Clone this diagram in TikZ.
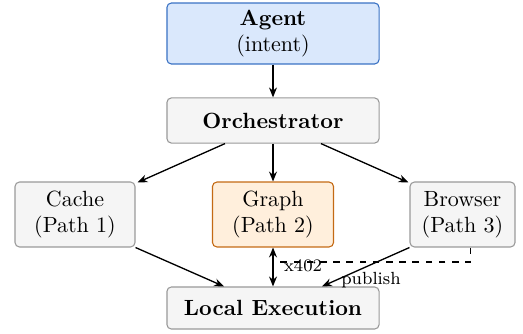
\documentclass[tikz,border=0pt]{standalone}
\usetikzlibrary{arrows.meta,calc}
\definecolor{agentfill}{HTML}{DAE8FC}
\definecolor{agentdraw}{HTML}{3A72C4}
\definecolor{graphfill}{HTML}{FFEFDC}
\definecolor{graphdraw}{HTML}{C46A14}
\definecolor{boxfill}{HTML}{F5F5F5}
\definecolor{boxdraw}{HTML}{9A9A9A}
\begin{document}
\begin{tikzpicture}[x=0.4545pt,y=-0.4545pt,
  box/.style={draw=boxdraw,fill=boxfill,rounded corners=2pt,line width=0.5pt,align=center,inner sep=0pt,font=\normalsize},
  agentbox/.style={box,draw=agentdraw,fill=agentfill},
  graphbox/.style={box,draw=graphdraw,fill=graphfill},
  arr/.style={-{Stealth[length=4.5pt,width=3.6pt]},line width=0.6pt},
  lbl/.style={font=\footnotesize,inner sep=0pt}]
\useasboundingbox (0,0) rectangle (523,333);
\node[agentbox,minimum width=96.4pt,minimum height=27.7pt] (agent) at (273,33.5) {\textbf{Agent}\\(intent)};
\node[box,minimum width=96.4pt,minimum height=20.5pt] (orch) at (273,120.5) {\textbf{Orchestrator}};
\node[box,minimum width=54.5pt,minimum height=29.5pt] (cache) at (75,214.5) {Cache\\(Path 1)};
\node[graphbox,minimum width=55pt,minimum height=29.5pt] (graph) at (273,214.5) {Graph\\(Path 2)};
\node[box,minimum width=47.7pt,minimum height=29.5pt] (browser) at (462.5,214.5) {Browser\\(Path 3)};
\node[box,minimum width=96.4pt,minimum height=19.1pt] (local) at (273,308) {\textbf{Local Execution}};
\draw[arr] (agent) -- (orch);
\draw[arr] (orch) -- (graph);
\draw[arr] ($(orch.south)+(-48,0)$) -- ($(cache.north east)+(2,1)$);
\draw[arr] ($(orch.south)+(48,0)$) -- ($(browser.north west)+(-1,1)$);
\draw[arr] (cache.south east) -- ($(local.north)+(-49,0)$);
\draw[arr] (browser.south west) -- ($(local.north)+(49,0)$);
\draw[{Stealth[length=4.5pt,width=3.6pt]}-{Stealth[length=4.5pt,width=3.6pt]},line width=0.6pt] (graph.south) -- (local.north);
\coordinate (xj) at (276,262);
\draw[dashed,line width=0.6pt] ($(browser.south)+(8,0)$) |- (xj);
\node[lbl] (x402) at (303,266) {x402};
\node[lbl] (pub) at (371,280) {publish};
\end{tikzpicture}
\end{document}
